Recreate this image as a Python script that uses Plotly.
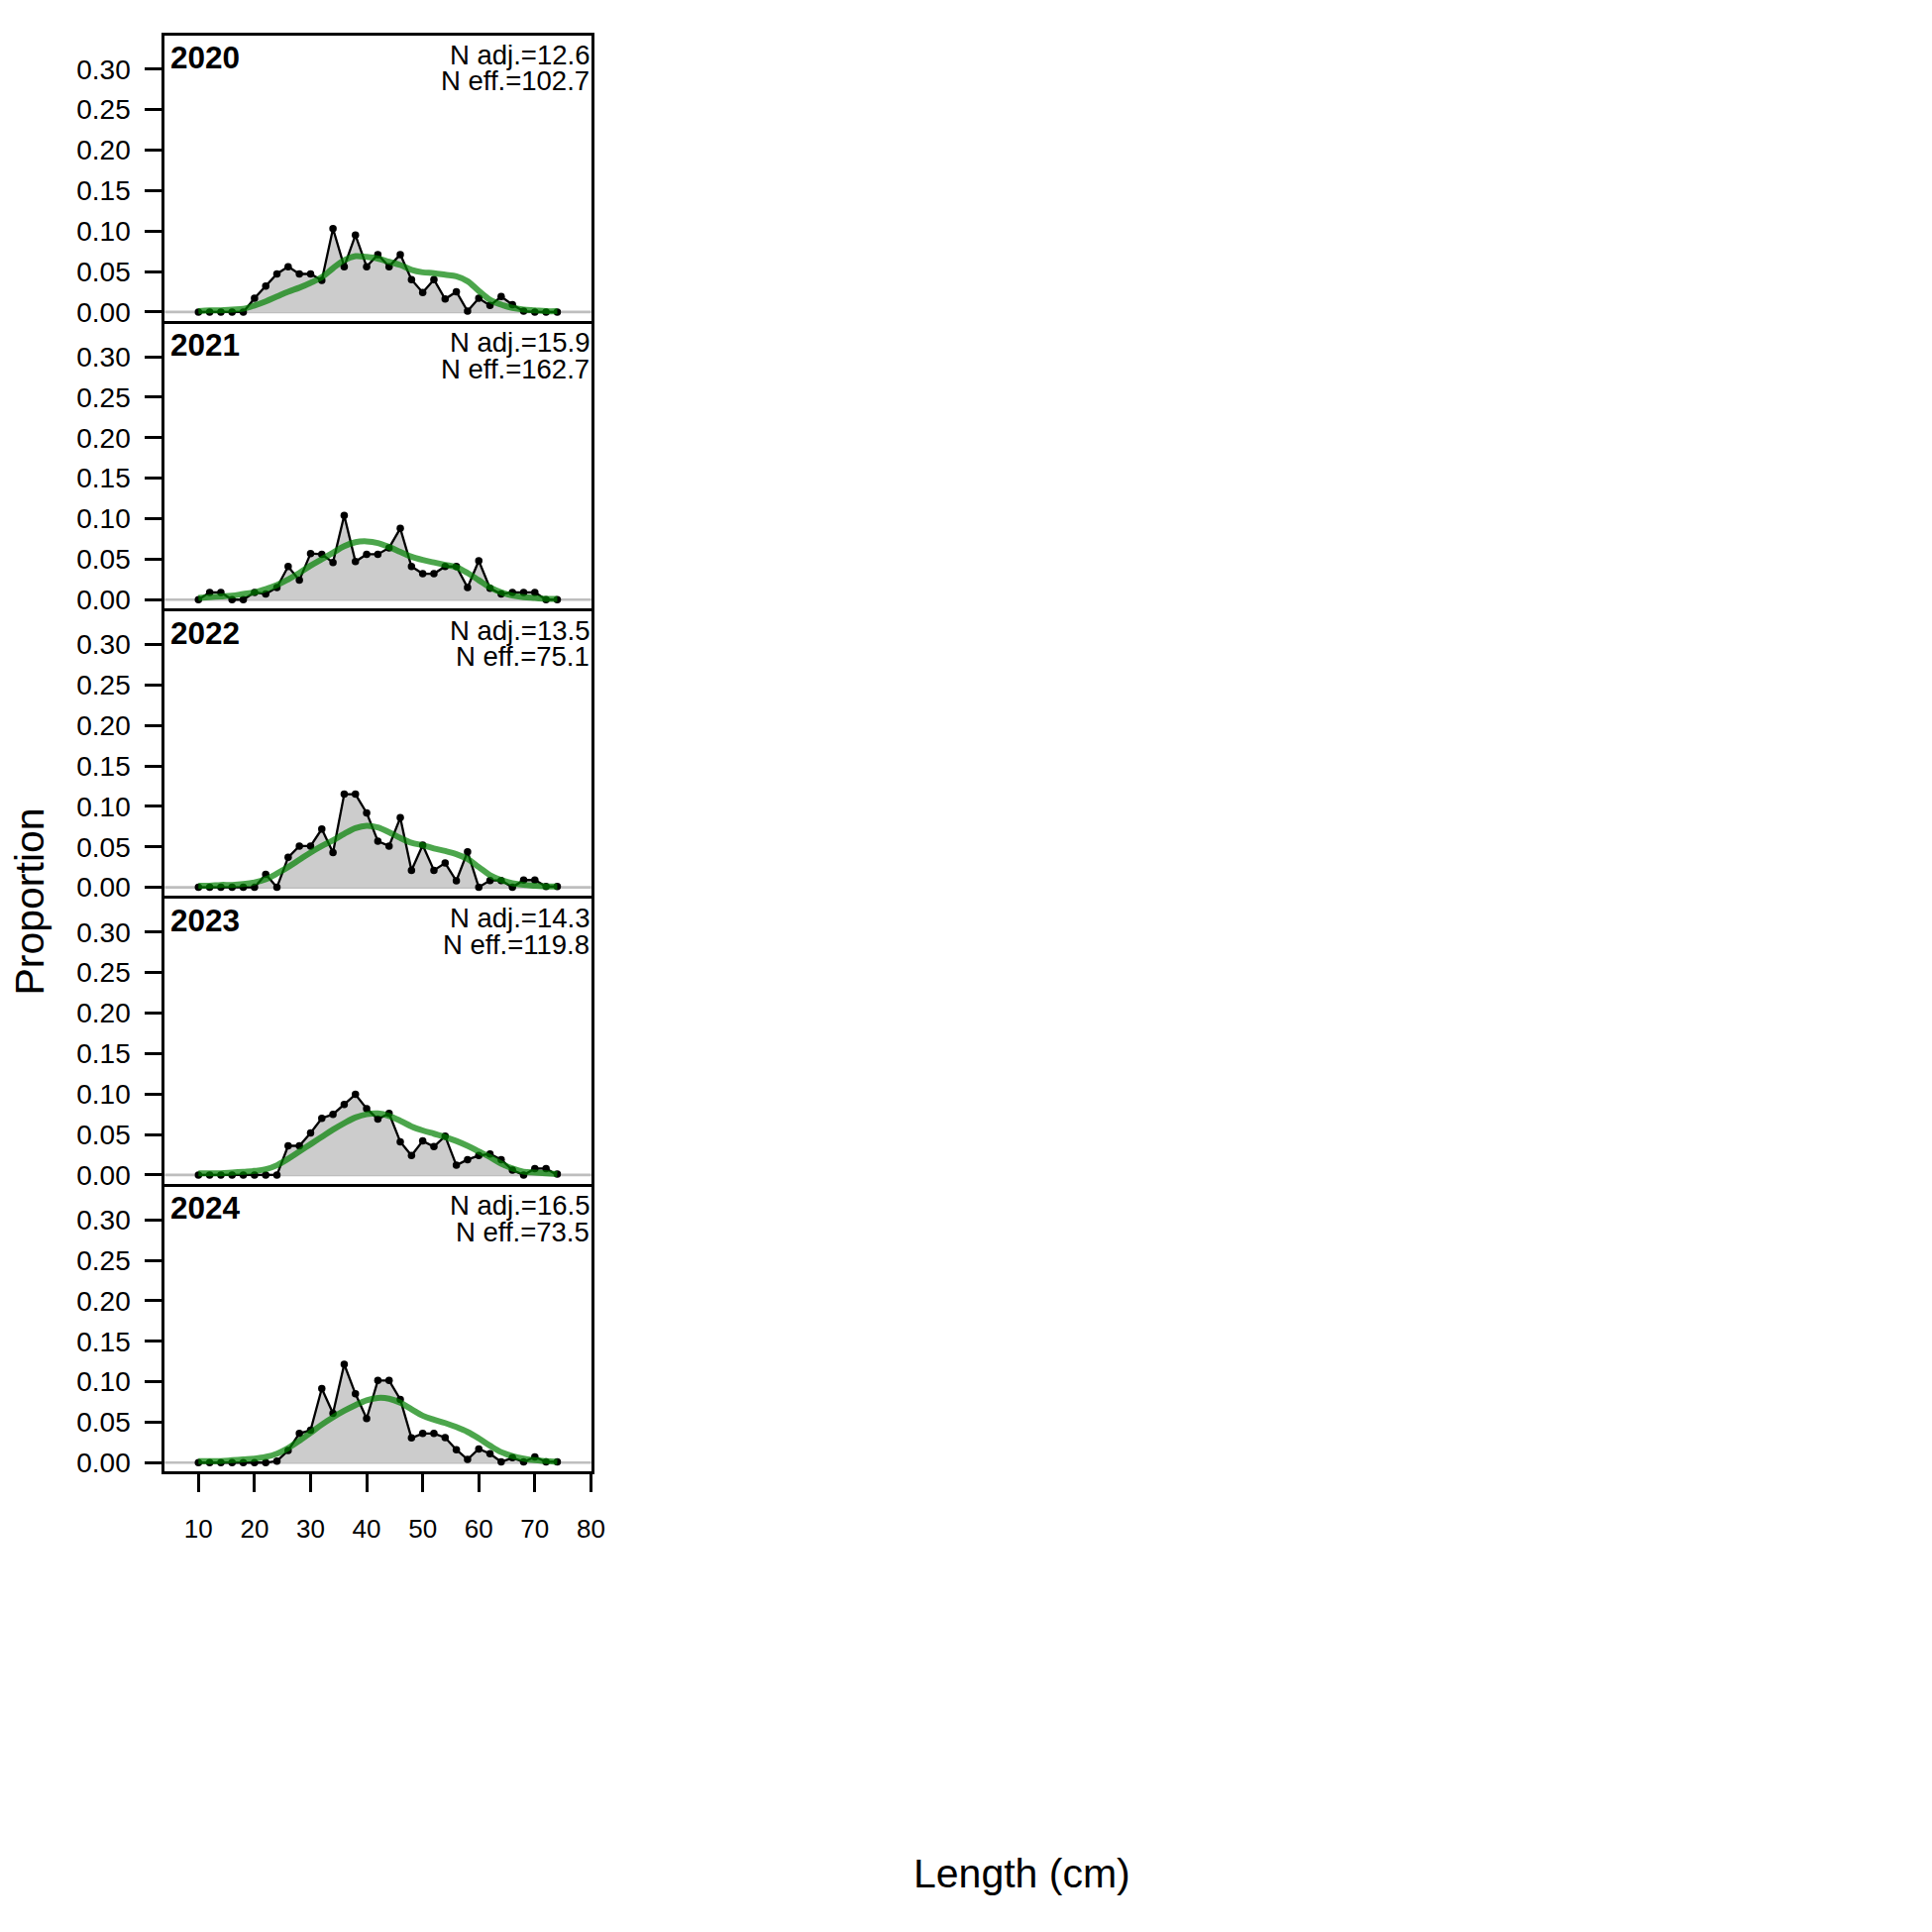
import plotly.graph_objects as go

years = ["2020", "2021", "2022", "2023", "2024"]
n_adj = ["12.6", "15.9", "13.5", "14.3", "16.5"]
n_eff = ["102.7", "162.7", "75.1", "119.8", "73.5"]

bins = [10, 12, 14, 16, 18, 20, 22, 24, 26, 28, 30, 32, 34, 36, 38, 40, 42,
        44, 46, 48, 50, 52, 54, 56, 58, 60, 62, 64, 66, 68, 70, 72, 74]

obs_2020 = [0, 0, 0, 0, 0, .017, .032, .047, .056, .047, .047, .039, .103, .056, .095, .056, .071,
            .056, .071, .040, .024, .040, .016, .025, .001, .017, .008, .019, .009, .001, 0, 0, 0]
exp_2020 = [.001, .002, .002, .003, .004, .008, .013, .019, .025, .030, .036, .043, .054, .064, .069, .068, .066,
            .062, .058, .052, .049, .048, .046, .044, .038, .026, .015, .009, .005, .003, .002, .001, .001]

obs_2021 = [0, .009, .009, 0, 0, .009, .007, .015, .041, .024, .057, .056, .046, .104, .047, .056, .056,
            .064, .088, .041, .032, .032, .041, .041, .015, .048, .014, .007, .009, .009, .009, 0, 0]
exp_2021 = [.002, .003, .004, .005, .007, .009, .013, .018, .025, .033, .042, .050, .058, .066, .071, .072, .070,
            .065, .059, .053, .049, .046, .043, .040, .033, .024, .015, .009, .005, .003, .002, .001, .001]

obs_2022 = [0, 0, 0, 0, 0, 0, .016, 0, .037, .051, .051, .072, .043, .115, .115, .092, .057,
            .051, .086, .021, .052, .021, .030, .008, .044, 0, .0085, .0085, 0, .009, .009, .001, .001]
exp_2022 = [.002, .002, .003, .003, .004, .006, .010, .017, .025, .034, .043, .051, .058, .066, .073, .076, .074,
            .068, .061, .055, .052, .048, .045, .041, .035, .025, .015, .009, .005, .003, .002, .001, .001]

obs_2023 = [0, 0, 0, 0, 0, 0, 0, 0, .036, .036, .052, .070, .075, .087, .0995, .082, .069,
            .076, .041, .024, .042, .035, .048, .012, .019, .024, .026, .019, .006, 0, .008, .008, .001]
exp_2023 = [.002, .002, .002, .003, .004, .005, .007, .012, .020, .029, .038, .047, .056, .064, .071, .075, .076,
            .073, .067, .060, .055, .051, .047, .042, .036, .029, .022, .014, .008, .004, .003, .002, .001]

obs_2024 = [0, 0, 0, 0, 0, 0, 0, .002, .015, .036, .040, .0915, .061, .1215, .085, .0545, .1015,
            .1015, .078, .0305, .036, .036, .031, .016, .004, .017, .011, .001, .006, .001, .007, .001, .001]
exp_2024 = [.002, .002, .002, .003, .004, .005, .007, .011, .018, .027, .037, .047, .056, .064, .071, .077, .080,
            .079, .074, .066, .058, .053, .049, .044, .038, .030, .021, .013, .008, .005, .003, .002, .001]

observed = [obs_2020, obs_2021, obs_2022, obs_2023, obs_2024]
expected = [exp_2020, exp_2021, exp_2022, exp_2023, exp_2024]

y_ticks = [0.0, 0.05, 0.10, 0.15, 0.20, 0.25, 0.30]
x_ticks = [10, 20, 30, 40, 50, 60, 70, 80]

FONT = "Liberation Sans, Arial, sans-serif"

# page body has an 8px default margin; lay out in 1950px page coordinates
OFF = 8.0
FW = 1950 - 2 * OFF


def px_x(p):
    return (p - OFF) / FW


def px_y(p):
    return 1 - (p - OFF) / FW


LW = 3.0
FRAME_L, FRAME_R = 166.0, 602.5
TOP0, PH = 35.0, 291.4
ZERO_OFF = 281.0
YSCALE = 820.0  # px per unit proportion

fig = go.Figure()
layout = dict(
    width=FW, height=FW, margin=dict(l=0, r=0, t=0, b=0),
    paper_bgcolor="white", plot_bgcolor="white", showlegend=False,
    font=dict(family=FONT, size=26, color="black"),
)
annotations = []
shapes = []

dl, dr = FRAME_L + LW / 2, FRAME_R - LW / 2
x_per_px = (80 - 10) / (600.7 - 201.7)
xr = [10 - (201.7 - dl) * x_per_px, max(80.02, 80 + (dr - 600.7) * x_per_px)]

for i, yr in enumerate(years):
    sfx = "" if i == 0 else str(i + 1)
    top = TOP0 + i * PH
    bot = top + PH
    dt, db = top + LW / 2, bot - LW / 2
    zero = top + ZERO_OFF
    yr_range = [(zero - db) / YSCALE, (zero - dt) / YSCALE]
    last = i == len(years) - 1
    layout["xaxis" + sfx] = dict(
        domain=[px_x(dl), px_x(dr)], range=xr, anchor="y" + sfx,
        showline=True, mirror=True, linecolor="black", linewidth=LW,
        showgrid=False, zeroline=False,
        tickvals=x_ticks, ticks="outside" if last else "", ticklen=18, tickwidth=2.7,
        tickcolor="black", showticklabels=last, ticklabelstandoff=15,
        tickfont=dict(size=26, family=FONT),
    )
    layout["yaxis" + sfx] = dict(
        domain=[px_y(db), px_y(dt)], range=yr_range, anchor="x" + sfx,
        showline=True, mirror=True, linecolor="black", linewidth=LW,
        showgrid=False, zeroline=False,
        tickvals=y_ticks, tickformat=".2f", ticks="outside", ticklen=17, tickwidth=2.7,
        tickcolor="black", ticklabelstandoff=9, tickfont=dict(size=28, family=FONT),
    )
    shapes.append(dict(type="line", xref="x" + sfx + " domain", yref="y" + sfx,
                       x0=0, x1=1, y0=0, y1=0, line=dict(color="rgb(190,190,190)", width=2.7),
                       layer="below"))
    xa, ya = "x" + sfx, "y" + sfx
    fig.add_trace(go.Scatter(
        x=[bins[0]] + bins + [bins[-1]], y=[0] + observed[i] + [0],
        mode="lines", fill="toself", fillcolor="rgb(204,204,204)",
        line=dict(color="black", width=2.3), xaxis=xa, yaxis=ya, hoverinfo="skip"))
    fig.add_trace(go.Scatter(
        x=bins, y=observed[i], mode="markers",
        marker=dict(color="black", size=7.5), xaxis=xa, yaxis=ya))
    fig.add_trace(go.Scatter(
        x=bins, y=expected[i], mode="lines", line_shape="spline",
        line=dict(color="rgba(0,128,0,0.7)", width=6), xaxis=xa, yaxis=ya))

    annotations.append(dict(xref="paper", yref="paper", x=px_x(171.5), y=px_y(top + 3),
                            xanchor="left", yanchor="top", showarrow=False,
                            text="<b>" + yr + "</b>", font=dict(size=31.5, family=FONT)))
    annotations.append(dict(xref="paper", yref="paper", x=px_x(601.7), y=px_y(top + 3),
                            xanchor="right", yanchor="top", showarrow=False,
                            text="N adj.=" + n_adj[i], font=dict(size=27.5, family=FONT)))
    annotations.append(dict(xref="paper", yref="paper", x=px_x(601.7), y=px_y(top + 29.7),
                            xanchor="right", yanchor="top", showarrow=False,
                            text="N eff.=" + n_eff[i], font=dict(size=27.5, family=FONT)))

annotations.append(dict(xref="paper", yref="paper", x=px_x(30), y=px_y(913),
                        xanchor="center", yanchor="middle", showarrow=False, textangle=-90,
                        borderpad=0, text="Proportion", font=dict(size=41, family=FONT)))
annotations.append(dict(xref="paper", yref="paper", x=px_x(1039), y=px_y(1898),
                        xanchor="center", yanchor="middle", showarrow=False,
                        text="Length (cm)", font=dict(size=41, family=FONT)))

layout["annotations"] = annotations
layout["shapes"] = shapes
fig.update_layout(**layout)
fig.write_html("out.html")
